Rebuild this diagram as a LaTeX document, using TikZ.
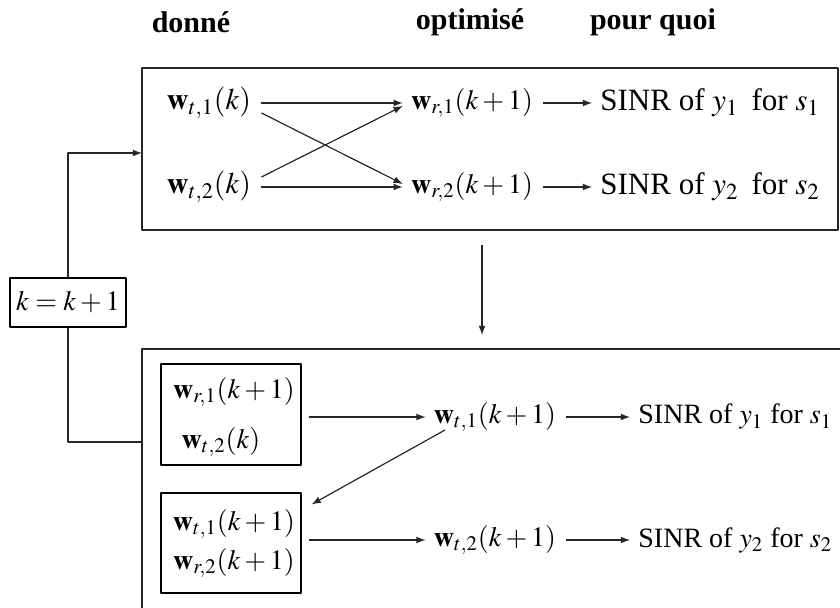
\documentclass[tikz,border=0pt]{standalone}
\usepackage{mathptmx}
\usepackage[no-math]{fontspec}
\setmainfont{Liberation Serif}
\usetikzlibrary{positioning}

\tikzset{
  box/.style={draw, line width=0.6pt, inner sep=0pt},
  txt/.style={font=\fontsize{14}{16}\selectfont, inner sep=1pt},
  sinr/.style={font=\fontsize{15.5}{17}\selectfont, inner sep=1pt, anchor=west},
  head/.style={font=\fontsize{15}{17}\selectfont\bfseries},
  flow/.style={->, line width=0.6pt, black!85},
}

\begin{document}
\begin{tikzpicture}[x=0.5pt,y=-0.5pt,line join=bevel,>=latex]
  \clip (0,0) rectangle (840,608);

  % corners of the two big boxes
  \coordinate (a0) at (142,68);
  \coordinate (a1) at (838,230);
  \coordinate (b0) at (142,349);
  \coordinate (b1) at (900,700);

  \draw[line width=0.6pt, black!85] (a0) rectangle (a1);
  \draw[line width=0.6pt, black!85] (b0) rectangle (b1);

  % column heads
  \node[head] (h1) at (191,22) {donné};
  \node[head] (h2) at (470,22) {optimisé};
  \node[head] (h3) at (653,22) {pour quoi};

  % upper stage
  \node[txt, font=\fontsize{15}{17}\selectfont] (wt1) at (209,103) {$\mathbf{w}_{t,1}(k)$};
  \node[txt, font=\fontsize{15}{17}\selectfont] (wt2) at (209,187) {$\mathbf{w}_{t,2}(k)$};
  \node[txt] (wr1) at (472,103) {$\mathbf{w}_{r,1}(k+1)$};
  \node[txt] (wr2) at (472,187) {$\mathbf{w}_{r,2}(k+1)$};
  \node[sinr] (q1) at (598,103) {SINR of $y_1$\, for $s_1$};
  \node[sinr] (q2) at (598,187) {SINR of $y_2$\, for $s_2$};

  \draw[flow] (wt1.east) ++(8,0) coordinate (p1) -- ([xshift=-3]wr1.west);
  \draw[flow] (wt2.east) ++(8,0) coordinate (p2) -- ([xshift=-3]wr2.west);
  \draw[flow] ([yshift=-5]p1) -- ([xshift=-3,yshift=-7]wr2.north west);
  \draw[flow] ([yshift=5]p2) -- ([xshift=-3,yshift=7]wr1.south west);
  \draw[flow] ([xshift=4]wr1.east) -- ([xshift=-3]q1.west);
  \draw[flow] ([xshift=4]wr2.east) -- ([xshift=-3]q2.west);

  % between the stages
  \coordinate (d0) at (482,245);
  \coordinate (d1) at (482,335);
  \draw[flow] (d0) -- (d1);

  % counter update
  \node[box, txt, minimum width=58pt, minimum height=24.5pt] (kk) at (68,302.5) {$k=k+1$};
  \coordinate (ina) at (142,153);
  \coordinate (inb) at (142,442);
  \draw[flow] (kk.north) |- (ina);
  \draw[line width=0.6pt, black!85] (kk.south) |- (inb);

  % lower stage
  \node[box, minimum width=70pt, minimum height=50.5pt] (g1) at (231,414.5) {};
  \node[box, minimum width=70pt, minimum height=50pt] (g2) at (231,543) {};
  \node[txt] (g1a) at (234,392) {$\mathbf{w}_{r,1}(k+1)$};
  \node[txt] (g1b) at (221,442) {$\mathbf{w}_{t,2}(k)$};
  \node[txt] (g2a) at (234,524) {$\mathbf{w}_{t,1}(k+1)$};
  \node[txt] (g2b) at (234,563) {$\mathbf{w}_{r,2}(k+1)$};

  \node[txt] (v1) at (495,417) {$\mathbf{w}_{t,1}(k+1)$};
  \node[txt] (v2) at (495,540) {$\mathbf{w}_{t,2}(k+1)$};
  \node[sinr, font=\fontsize{14}{16}\selectfont] (r1) at (636,417) {SINR of $y_1$ for $s_1$};
  \node[sinr, font=\fontsize{14}{16}\selectfont] (r2) at (636,540) {SINR of $y_2$ for $s_2$};

  \draw[flow] ([xshift=3.5]g1.east |- v1) -- ([xshift=-3]v1.west);
  \draw[flow] ([xshift=3.5]g2.east |- v2) -- ([xshift=-3]v2.west);
  \draw[flow] ([xshift=4]v1.east) -- ([xshift=-3]r1.west);
  \draw[flow] ([xshift=4]v2.east) -- ([xshift=-3]r2.west);
  \draw[flow] ([xshift=-25,yshift=2]v1.south) -- ([xshift=5,yshift=-6]g2.north east);
\end{tikzpicture}
\end{document}
